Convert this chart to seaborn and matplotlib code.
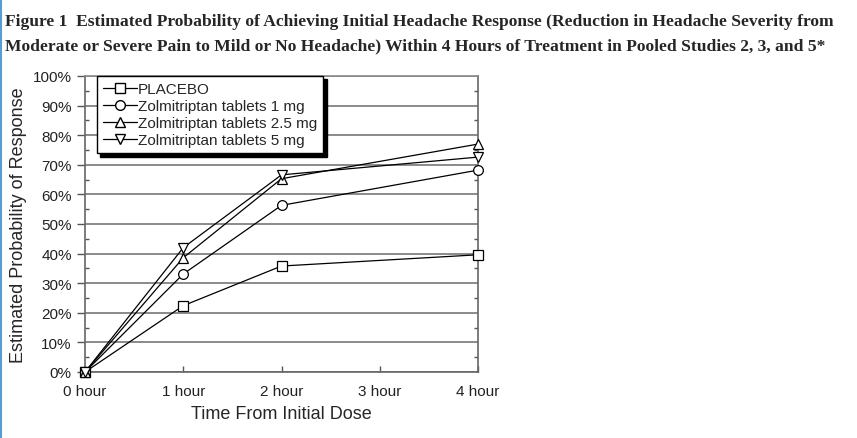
import matplotlib
matplotlib.use("Agg")
import matplotlib.pyplot as plt
import matplotlib.lines as mlines
from matplotlib.ticker import MultipleLocator, FuncFormatter
import seaborn as sns
import pandas as pd

# values (percent)
hours = [0, 1, 2, 4]
placebo = [0, 22.4, 35.8, 39.6]
zolmi_1mg = [0, 33.1, 56.3, 68.2]
zolmi_25mg = [0, 38.6, 65.3, 77.0]
zolmi_5mg = [0, 42.0, 66.6, 72.6]

series_names = ["PLACEBO", "Zolmitriptan tablets 1 mg",
                "Zolmitriptan tablets 2.5 mg", "Zolmitriptan tablets 5 mg"]
series_markers = ["s", "o", "^", "v"]
x_tick_labels = ["0 hour", "1 hour", "2 hour", "3 hour", "4 hour"]

title_lines = [
    "Figure 1  Estimated Probability of Achieving Initial Headache Response (Reduction in Headache Severity from",
    "Moderate or Severe Pain to Mild or No Headache) Within 4 Hours of Treatment in Pooled Studies 2, 3, and 5*",
]

rows = []
for name, vals in zip(series_names, [placebo, zolmi_1mg, zolmi_25mg, zolmi_5mg]):
    for h, v in zip(hours, vals):
        rows.append({"hour": h, "value": v, "series": name})
df = pd.DataFrame(rows)

sns.set_style("ticks")
plt.rcParams["font.family"] = ["Liberation Sans", "DejaVu Sans"]

fig = plt.figure(figsize=(8.57, 4.39), dpi=100)
ax = fig.add_axes([85 / 857, 66 / 439, 393 / 857, 296 / 439])

sns.lineplot(data=df, x="hour", y="value", hue="series", style="series",
             hue_order=series_names, style_order=series_names,
             palette=["black"] * 4, markers=dict(zip(series_names, series_markers)),
             dashes=False, linewidth=0.9, markersize=7,
             markerfacecolor="white", markeredgecolor="black", mew=0.9,
             legend=False, ax=ax, zorder=3, clip_on=False)

ax.set_xlim(0, 4)
ax.set_ylim(0, 100)
ax.set_xticks(range(5))
ax.set_xticklabels(x_tick_labels)
ax.yaxis.set_major_locator(MultipleLocator(10))
ax.yaxis.set_minor_locator(MultipleLocator(5))
ax.yaxis.set_major_formatter(FuncFormatter(lambda v, p: f"{int(v)}%"))
ax.tick_params(axis="both", labelsize=11, colors="#222222")
ax.tick_params(axis="y", which="major", direction="out", length=6, width=1, color="#555555")
ax.tick_params(axis="y", which="minor", direction="in", length=3, width=1, color="#555555",
               right=True)
ax.tick_params(axis="x", which="major", direction="in", length=4, width=1, color="#555555",
               pad=9)
ax.grid(axis="y", which="major", color="#8a8a8a", linewidth=1.4)
ax.grid(axis="x", visible=False)
for side in ["left", "right", "bottom", "top"]:
    ax.spines[side].set_visible(True)
    ax.spines[side].set_color("#666666")
    ax.spines[side].set_linewidth(1.2)
ax.spines["top"].set_color("#8a8a8a")

ax.set_xlabel("Time From Initial Dose", fontsize=13, labelpad=5)
ax.set_ylabel("Estimated Probability of Response", fontsize=13, labelpad=4)

handles = [mlines.Line2D([], [], color="black", marker=m, markersize=7, linewidth=0.9,
                         markerfacecolor="white", markeredgecolor="black", label=n)
           for n, m in zip(series_names, series_markers)]
leg = ax.legend(handles=handles, loc="upper left", bbox_to_anchor=(0.03, 1.0),
                borderaxespad=0, fontsize=11, frameon=True, fancybox=False,
                handlelength=2.2, handletextpad=0.1, labelspacing=0.2,
                borderpad=0.4, numpoints=1,
                shadow={"ox": 2.5, "oy": -2.5, "facecolor": "black",
                        "edgecolor": "black", "alpha": 1})
leg.get_frame().set_edgecolor("black")
leg.get_frame().set_linewidth(1.0)
leg.get_frame().set_alpha(1)

for i, line in enumerate(title_lines):
    fig.text(5 / 857, 1 - (22 + 24 * i) / 439, line, fontsize=12.6, fontweight="bold",
             family=["Liberation Serif", "DejaVu Serif"], va="center", ha="left")

# thin blue border on the left edge of the page
fig.add_artist(mlines.Line2D([0.0012, 0.0012], [0, 1], transform=fig.transFigure,
                             color="#5b9bd5", linewidth=1.5))

fig.savefig("out.png", dpi=100)
